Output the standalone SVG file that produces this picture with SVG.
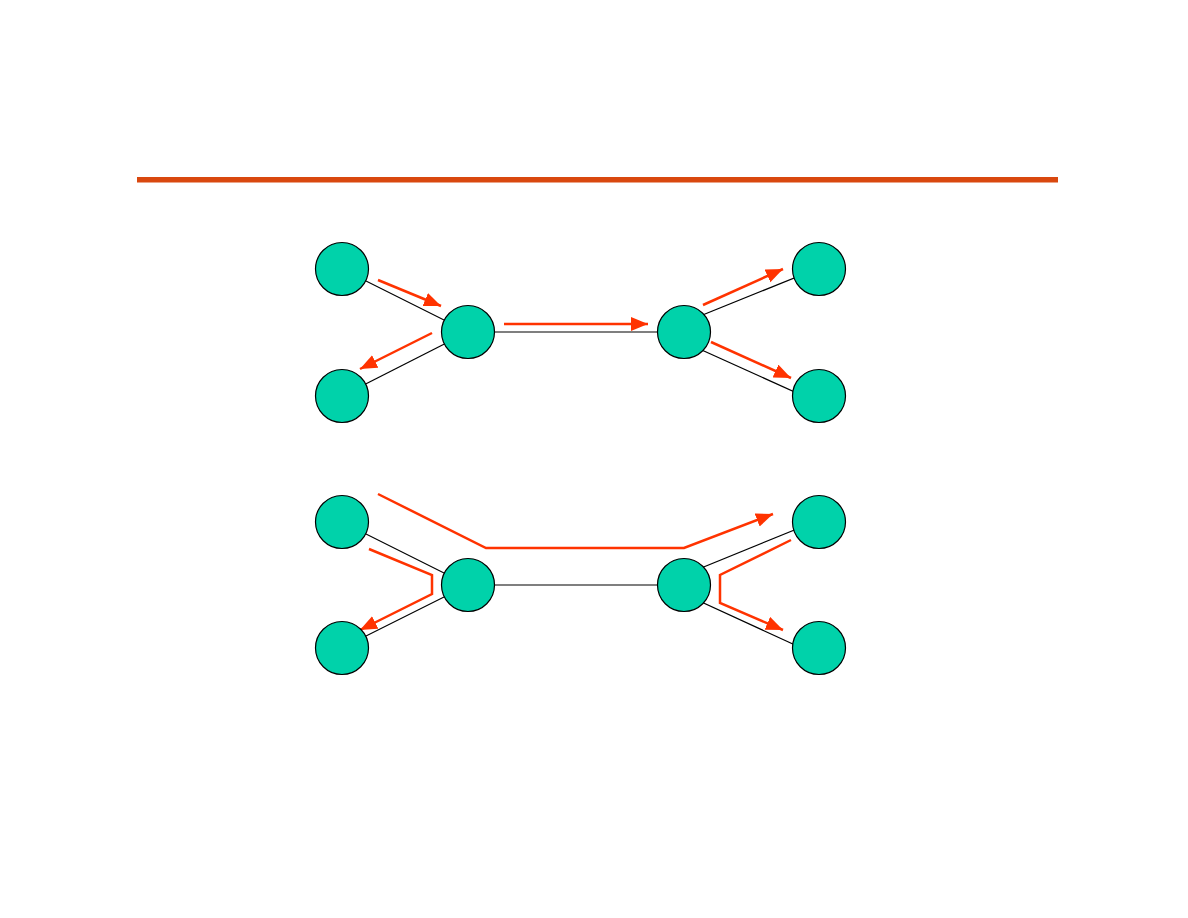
<svg xmlns="http://www.w3.org/2000/svg" width="1188" height="918" viewBox="0 0 1188 918">
<style>
.node{fill:#00D2AA;stroke:#000;stroke-width:1.2}
.link{stroke:#000;stroke-width:1.2;fill:none}
.flow{stroke:#FF3300;stroke-width:2.5;fill:none;marker-end:url(#ah)}
</style>
<defs>
<marker id="ah" markerUnits="userSpaceOnUse" markerWidth="19" markerHeight="15" refX="17" refY="7" orient="auto">
<path d="M0,0 L17,7 L0,14 z" fill="#FF3300"/>
</marker>
</defs>
<rect width="1188" height="918" fill="#fff"/>
<rect x="137" y="177" width="921" height="5.5" fill="#D9480F"/>
<g id="connectors">
<line class="link" x1="342" y1="269" x2="468" y2="332"/>
<line class="link" x1="342" y1="396" x2="468" y2="332"/>
<line class="link" x1="468" y1="332" x2="684" y2="332"/>
<line class="link" x1="684" y1="322.5" x2="819" y2="268"/>
<line class="link" x1="684" y1="342" x2="819" y2="403"/>
<line class="link" x1="342" y1="522" x2="468" y2="585"/>
<line class="link" x1="342" y1="648" x2="468" y2="585"/>
<line class="link" x1="468" y1="585" x2="684" y2="585"/>
<line class="link" x1="684" y1="575" x2="819" y2="520"/>
<line class="link" x1="684" y1="594" x2="819" y2="656"/>
<path class="flow" d="M378,280 L441,306"/>
<path class="flow" d="M432,333 L360,369"/>
<path class="flow" d="M504,324 L648,324"/>
<path class="flow" d="M703,305 L783,269"/>
<path class="flow" d="M711,342 L791,378"/>
<path class="flow" d="M378,494 L486,548 L684,548 L773,514"/>
<path class="flow" d="M369,549 L432,575 L432,594 L360,630"/>
<path class="flow" d="M791,540 L720,575 L720,603 L783,630"/>
</g>
<g id="n1"><circle class="node" cx="342" cy="269" r="26.5"/></g>
<g id="n2"><circle class="node" cx="342" cy="396" r="26.5"/></g>
<g id="n3"><circle class="node" cx="468" cy="332" r="26.5"/></g>
<g id="n4"><circle class="node" cx="684" cy="332" r="26.5"/></g>
<g id="n5"><circle class="node" cx="819" cy="269" r="26.5"/></g>
<g id="n6"><circle class="node" cx="819" cy="396" r="26.5"/></g>
<g id="n7"><circle class="node" cx="342" cy="522" r="26.5"/></g>
<g id="n8"><circle class="node" cx="342" cy="648" r="26.5"/></g>
<g id="n9"><circle class="node" cx="468" cy="585" r="26.5"/></g>
<g id="n10"><circle class="node" cx="684" cy="585" r="26.5"/></g>
<g id="n11"><circle class="node" cx="819" cy="522" r="26.5"/></g>
<g id="n12"><circle class="node" cx="819" cy="648" r="26.5"/></g>
</svg>
